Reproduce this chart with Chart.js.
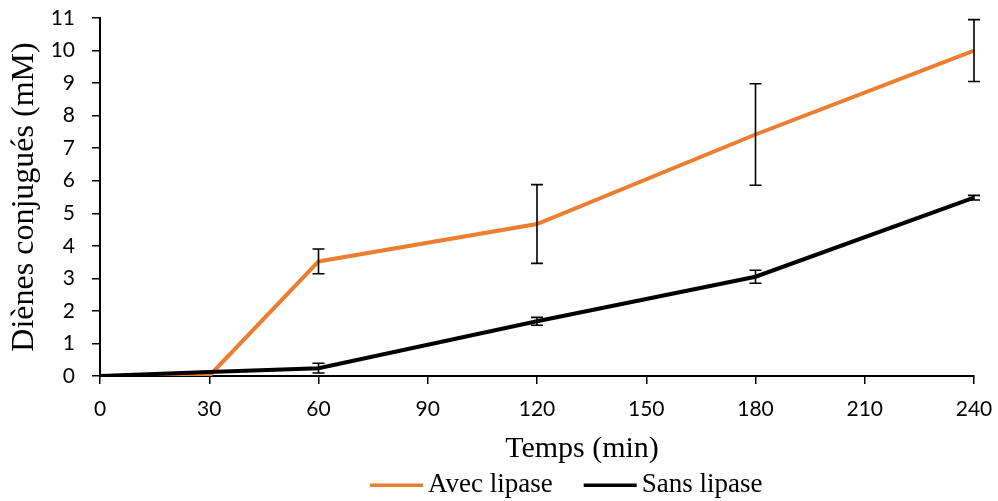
<!DOCTYPE html>
<html><head><meta charset="utf-8">
<script src="https://cdn.jsdelivr.net/npm/chart.js@4.4.1/dist/chart.umd.min.js"></script>
<style>html,body{margin:0;padding:0;background:#fff}#wrap{width:998px;height:501px}</style>
</head><body><div id="wrap"><canvas id="c" width="998" height="501"></canvas></div>
<script>
const times = [0, 30, 60, 120, 180, 240];
const avecLipase = [0, 0, 3.52, 4.67, 7.42, 10.0];
const avecErr = [0, 0, 0.38, 1.21, 1.56, 0.95];
const sansLipase = [0, 0.12, 0.24, 1.68, 3.05, 5.48];
const sansErr = [0, 0, 0.15, 0.12, 0.2, 0.07];
const xTicks = [0, 30, 60, 90, 120, 150, 180, 210, 240];
const yTicks = [0,1,2,3,4,5,6,7,8,9,10,11];
const xTitle = 'Temps (min)';
const yTitle = 'Diènes conjugués (mM)';

const errorBars = {
  id: 'errorBars',
  afterDatasetsDraw(chart) {
    const ctx = chart.ctx, xs = chart.scales.x, ys = chart.scales.y;
    const sets = [[avecLipase, avecErr], [sansLipase, sansErr]];
    ctx.save();
    ctx.strokeStyle = '#000';
    ctx.lineWidth = 1.6;
    sets.forEach(([vals, errs]) => {
      vals.forEach((v, i) => {
        const e = errs[i];
        if (!e) return;
        const x = xs.getPixelForValue(times[i]);
        const yt = ys.getPixelForValue(v + e), yb = ys.getPixelForValue(v - e);
        ctx.beginPath();
        ctx.moveTo(x, yt); ctx.lineTo(x, yb);
        ctx.moveTo(x - 6, yt); ctx.lineTo(x + 6, yt);
        ctx.moveTo(x - 6, yb); ctx.lineTo(x + 6, yb);
        ctx.stroke();
      });
    });
    ctx.restore();
  }
};

const textExtras = {
  id: 'textExtras',
  afterDraw(chart) {
    const ctx = chart.ctx;
    ctx.save();
    ctx.textBaseline = 'middle';
    // x-axis title (offset to the right as in the original)
    ctx.font = '30px "Liberation Serif"';
    ctx.fillStyle = '#000';
    ctx.textAlign = 'center';
    ctx.fillText(xTitle, 582, 449);
    // legend
    ctx.textAlign = 'left';
    ctx.font = '27px "Liberation Serif"';
    const y = 485;
    let x = 370;
    chart.data.datasets.forEach(ds => {
      ctx.fillStyle = ds.borderColor;
      ctx.fillRect(x, y - 1.5, 53, 3.5);
      x += 58;
      ctx.fillStyle = '#000';
      ctx.fillText(ds.label, x, y);
      x += ctx.measureText(ds.label).width + 31;
    });
    ctx.restore();
  }
};

const tickFont = {family: 'Lato', size: 21};
new Chart(document.getElementById('c'), {
  type: 'line',
  data: {
    datasets: [
      {label: 'Avec lipase', data: times.map((t, i) => ({x: t, y: avecLipase[i]})),
       borderColor: '#ED7D31', backgroundColor: '#ED7D31', borderWidth: 4, pointRadius: 0, order: 1, tension: 0},
      {label: 'Sans lipase', data: times.map((t, i) => ({x: t, y: sansLipase[i]})),
       borderColor: '#000000', backgroundColor: '#000000', borderWidth: 4, pointRadius: 0, order: 0, tension: 0}
    ]
  },
  options: {
    responsive: false, animation: false, devicePixelRatio: 1,
    layout: {padding: {top: 18, right: 24, left: 5, bottom: 36}},
    plugins: {
      legend: {display: false},
      tooltip: {enabled: false}
    },
    scales: {
      x: {type: 'linear', min: 0, max: 240,
        afterBuildTicks: s => { s.ticks = xTicks.map(v => ({value: v})); },
        afterFit: s => { s.height = 89; s.paddingLeft = 0; s.paddingRight = 0; },
        ticks: {color: '#000', font: tickFont, padding: 13},
        grid: {drawOnChartArea: false, color: '#000', tickLength: 8, lineWidth: 1.5},
        border: {color: '#000', width: 2},
        title: {display: false, text: xTitle}
      },
      y: {min: 0, max: 11,
        afterBuildTicks: s => { s.ticks = yTicks.map(v => ({value: v})); },
        afterFit: s => { s.width = 95; s.paddingTop = 0; s.paddingBottom = 0; },
        ticks: {color: '#000', font: tickFont, padding: 17},
        grid: {drawOnChartArea: false, color: '#000', tickLength: 8, lineWidth: 1.5},
        border: {color: '#000', width: 2},
        title: {display: true, text: yTitle, color: '#000', font: {family: 'Liberation Serif', size: 32}, padding: {top: 0, bottom: 0}}
      }
    }
  },
  plugins: [errorBars, textExtras]
});
</script></body></html>
